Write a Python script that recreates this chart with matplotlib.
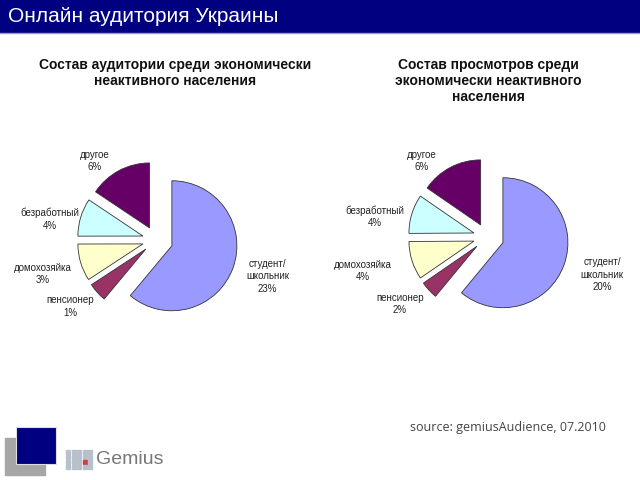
import matplotlib.pyplot as plt
from matplotlib.patches import Rectangle

# data
categories = ['студент/\nшкольник', 'пенсионер', 'домохозяйка', 'безработный', 'другое']
left_pct = ['23%', '1%', '3%', '4%', '6%']
right_pct = ['20%', '2%', '4%', '4%', '6%']
# slice shares
left_share = [61.0, 4.7, 9.2, 9.4, 15.6]
right_share = [61.0, 4.4, 9.5, 9.7, 15.4]

colors = ['#9999FF', '#993366', '#FFFFCC', '#CCFFFF', '#660066']
explode = [0.26, 0.21, 0.21, 0.21, 0.21]

W, H = 640, 480
fig = plt.figure(figsize=(6.4, 4.8), dpi=100)
fig.patch.set_facecolor('white')

# full-figure overlay in pixel coords
bg = fig.add_axes([0, 0, 1, 1])
bg.set_xlim(0, W)
bg.set_ylim(H, 0)
bg.axis('off')

bg.add_patch(Rectangle((0, 0), W, 32, color='#000080'))
bg.plot([0, W], [32.5, 32.5], color='#9999CC', lw=1)
bg.text(8, 17, 'Онлайн аудитория Украины', color='white', fontsize=15,
        family='Liberation Sans', va='center', ha='left')

bg.text(175, 73, 'Состав аудитории среди экономически\nнеактивного населения',
        ha='center', va='center', fontsize=10, fontweight='bold',
        family='Liberation Sans', linespacing=1.2, color='#111111')
bg.text(488, 81, 'Состав просмотров среди\nэкономически неактивного\nнаселения',
        ha='center', va='center', fontsize=10, fontweight='bold',
        family='Liberation Sans', linespacing=1.2, color='#111111')

bg.text(410, 427, 'source: gemiusAudience, 07.2010', ha='left', va='center',
        fontsize=9, family='Open Sans', color='#444444')

# logo
bg.add_patch(Rectangle((5, 438), 40, 37, color='#A6A6A6'))
bg.add_patch(Rectangle((16, 427), 40, 37, color='#000080', ec='#DDDDDD', lw=0.8))
for i in range(5):
    for j in range(4):
        c = '#D04040' if (i == 3 and j == 2) else '#B8C0CC'
        bg.add_patch(Rectangle((66 + i * 5.5, 450 + j * 5), 4, 3.5, color=c))
bg.text(96, 459, 'Gemius', ha='left', va='center', fontsize=14,
        family='Liberation Sans', color='#777777')

# label offsets around each pie (pie units)
left_lab = [(1.72, -0.56), (-1.32, -1.02), (-1.74, -0.52), (-1.63, 0.32), (-0.94, 1.22)]
right_lab = [(1.77, -0.58), (-1.34, -1.03), (-1.91, -0.52), (-1.72, 0.31), (-1.0, 1.17)]


def draw_pie(cx, cy, shares, pct, lab):
    r = 65
    span = 2.1
    ax = fig.add_axes([(cx - r * span) / W, (H - cy - r * span) / H,
                       2 * r * span / W, 2 * r * span / H])
    ax.pie(shares, colors=colors, explode=explode, startangle=90,
           counterclock=False,
           wedgeprops=dict(edgecolor='#333333', linewidth=0.6))
    ax.set_xlim(-span, span)
    ax.set_ylim(-span, span)
    ax.set_aspect('auto')
    for name, p, (x, y) in zip(categories, pct, lab):
        ax.text(x, y, name + '\n' + p, ha='center', va='center',
                fontsize=7, color='#222222', linespacing=1.3,
                family='Liberation Sans')


draw_pie(156, 240, left_share, left_pct, left_lab)
draw_pie(487, 237, right_share, right_pct, right_lab)

fig.savefig('out.png', dpi=100)
